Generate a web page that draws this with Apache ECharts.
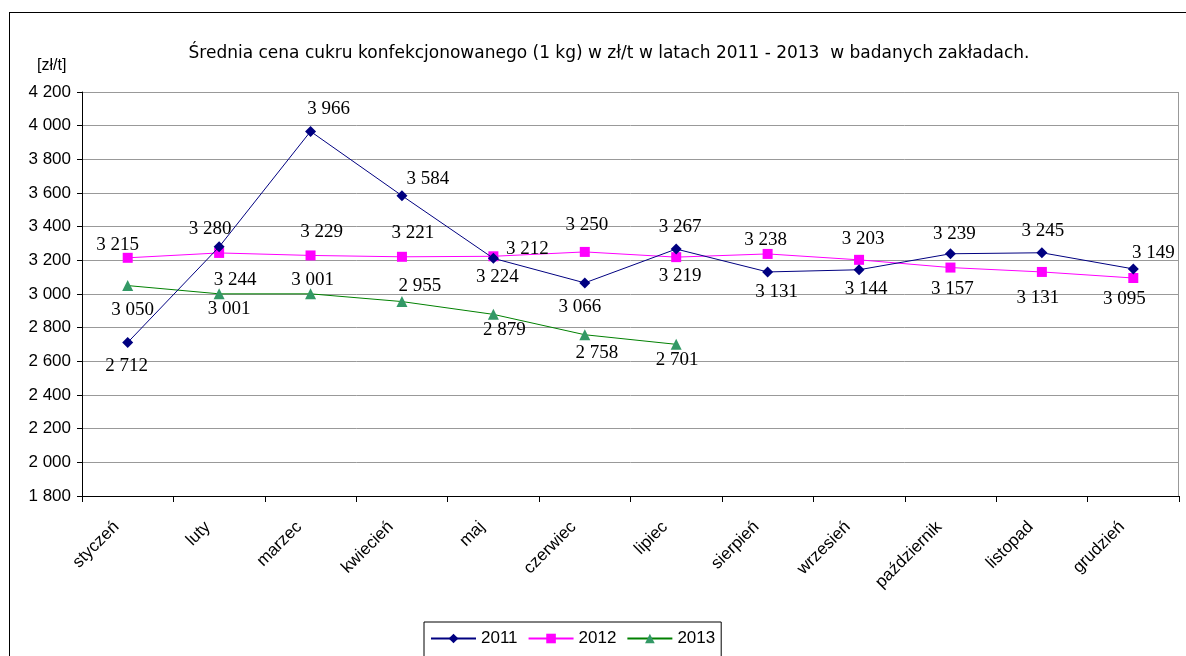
<!DOCTYPE html>
<html>
<head>
<meta charset="utf-8">
<script src="https://cdn.jsdelivr.net/npm/echarts@6/dist/echarts.min.js"></script>
<style>
html,body{margin:0;padding:0;background:#fff;}
#frame{position:absolute;left:9px;top:12px;width:1190px;height:660px;border:1px solid #000;box-sizing:border-box;}
#c{position:absolute;left:0;top:0;width:1186px;height:656px;}
</style>
</head>
<body>
<div id="frame"></div>
<div id="c"></div>
<script>
const months = ['styczeń','luty','marzec','kwiecień','maj','czerwiec','lipiec','sierpień','wrzesień','październik','listopad','grudzień'];
const y2011 = [2712, 3280, 3966, 3584, 3212, 3066, 3267, 3131, 3144, 3239, 3245, 3149];
const y2012 = [3215, 3244, 3229, 3221, 3224, 3250, 3219, 3238, 3203, 3157, 3131, 3095];
const y2013 = [3050, 3001, 3001, 2955, 2879, 2758, 2701];
const seriesNames = ['2011', '2012', '2013'];
const yTicks = {min: 1800, max: 4200, interval: 200};

// data label placement (layout only): [dx, dy] from the point
const off2011 = [[-1,24],[-9,-18],[18,-22],[26,-17],[34,-9],[-5,24],[4,-22],[9,20],[7,19],[4,-20],[1,-22],[20,-16]];
const off2012 = [[-10,-13],[16,27],[11,-23],[11,-24],[4,21],[2,-27],[4,19],[-2,-14],[4,-21],[2,21],[-4,26],[-9,21]];
const off2013 = [[5,24],[10,15],[2,-14],[18,-16],[11,16],[12,18],[1,16]];

function fmt(v){ return String(v).replace(/\B(?=(\d{3})+(?!\d))/g, ' '); }
function build(vals, offs){
  return vals.map((v,i)=>({value:v, label:{position:'inside', offset:offs[i]}}));
}
const labelBase = {show:true, fontFamily:'Liberation Serif', fontSize:19, color:'#000', formatter:p=>fmt(p.value)};

const chart = echarts.init(document.getElementById('c'), null, {renderer:'canvas'});
chart.setOption({
  animation:false,
  title:{text:'Średnia cena cukru konfekcjonowanego (1 kg) w zł/t w latach 2011 - 2013  w badanych zakładach.',
    left:604, textAlign:'center', top:40,
    textStyle:{fontFamily:'DejaVu Sans', fontSize:17, fontWeight:'normal', color:'#000'}},
  legend:{left:424, top:622, padding:[8,6,14,6], itemGap:10, itemWidth:45, itemHeight:12,
    borderColor:'#000', borderWidth:1, borderRadius:0,
    textStyle:{fontFamily:'Liberation Sans', fontSize:17, color:'#000'}, data:seriesNames},
  grid:{left:82, right:7, top:92, bottom:160},
  xAxis:{type:'category', data:months, boundaryGap:true,
    axisLine:{lineStyle:{color:'#000', width:1}},
    axisTick:{show:true, alignWithLabel:false, length:6, lineStyle:{color:'#000'}},
    axisLabel:{rotate:45, fontFamily:'Liberation Sans', fontSize:17, color:'#000', margin:17, padding:[0,16,0,0], interval:0},
    splitLine:{show:false}},
  yAxis:{type:'value', min:yTicks.min, max:yTicks.max, interval:yTicks.interval,
    axisLine:{show:true, lineStyle:{color:'#000', width:1}},
    axisTick:{show:true, length:5, lineStyle:{color:'#000'}},
    axisLabel:{fontFamily:'Liberation Sans', fontSize:17, color:'#000', margin:11, formatter:v=>fmt(v)},
    splitLine:{show:true, lineStyle:{color:'#999', width:1}}},
  series:[
    {name:seriesNames[0], type:'line', data:build(y2011,off2011), symbol:'diamond', symbolSize:11,
      lineStyle:{color:'#000080', width:1}, itemStyle:{color:'#000080'}, label:labelBase, z:3},
    {name:seriesNames[1], type:'line', data:build(y2012,off2012), symbol:'rect', symbolSize:10,
      lineStyle:{color:'#FF00FF', width:1}, itemStyle:{color:'#FF00FF'}, label:labelBase, z:2},
    {name:seriesNames[2], type:'line', data:build(y2013,off2013), symbol:'triangle', symbolSize:11,
      lineStyle:{color:'#008000', width:1}, itemStyle:{color:'#339966'}, label:labelBase, z:2}
  ]
});
const r = chart.getModel().getComponent('grid').coordinateSystem.getRect();
chart.setOption({graphic:[
  {type:'text', left:37, top:58, style:{text:'[zł/t]', font:'16px "Liberation Sans"', fill:'#000'}},
  {type:'polyline', shape:{points:[[r.x, r.y+0.5],[r.x+r.width-0.5, r.y+0.5],[r.x+r.width-0.5, r.y+r.height]]}, style:{stroke:'#999', lineWidth:1, fill:null}, z:0}]});
</script>
</body>
</html>
